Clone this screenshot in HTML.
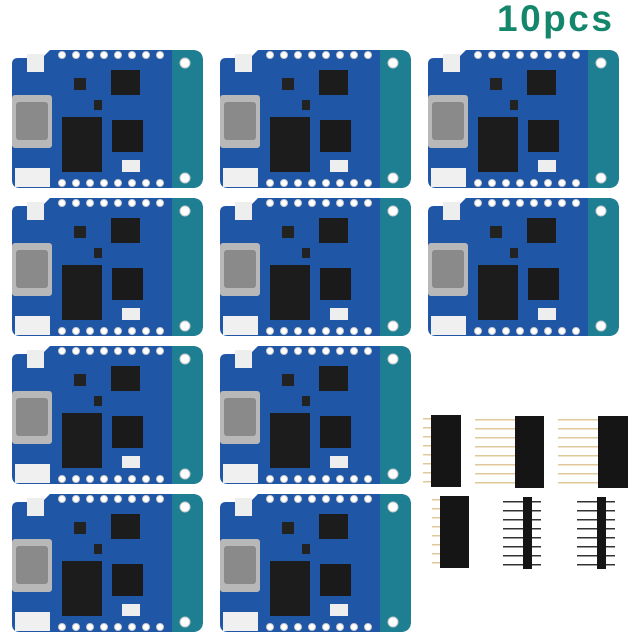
<!DOCTYPE html>
<html><head><style>
html,body{margin:0;padding:0;background:#fff;width:640px;height:640px;overflow:hidden}
</style></head><body>
<svg width="640" height="640" viewBox="0 0 640 640" xmlns="http://www.w3.org/2000/svg">
<defs>
<g id="b">
<path d="M38,0 H180 Q191,0 191,11 V127 Q191,138 180,138 H8 Q0,138 0,130 V14 Q0,8 6,8 H30 Z" fill="#1f56a6"/>
<path d="M160,0 H180 Q191,0 191,11 V127 Q191,138 180,138 H160 Z" fill="#1f7f92"/>
<g fill="#fff" stroke="#c9c9c9" stroke-width="1">
<circle cx="50" cy="5" r="3.5"/><circle cx="64" cy="5" r="3.5"/><circle cx="78" cy="5" r="3.5"/><circle cx="92" cy="5" r="3.5"/><circle cx="106" cy="5" r="3.5"/><circle cx="120" cy="5" r="3.5"/><circle cx="134" cy="5" r="3.5"/><circle cx="148" cy="5" r="3.5"/>
<circle cx="50" cy="133" r="3.5"/><circle cx="64" cy="133" r="3.5"/><circle cx="78" cy="133" r="3.5"/><circle cx="92" cy="133" r="3.5"/><circle cx="106" cy="133" r="3.5"/><circle cx="120" cy="133" r="3.5"/><circle cx="134" cy="133" r="3.5"/><circle cx="148" cy="133" r="3.5"/>
<circle cx="173" cy="13" r="5"/><circle cx="173" cy="128" r="5"/>
</g>
<rect x="15" y="4" width="17" height="18" fill="#eee"/>
<rect x="0" y="45" width="40" height="53" rx="3" fill="#b8b8b8"/>
<rect x="4" y="52" width="32" height="38" rx="3" fill="#8a8a8a"/>
<rect x="3" y="118" width="35" height="19" fill="#f0f0f0"/>
<rect x="50" y="67" width="40" height="55" fill="#1c1c1c"/>
<rect x="100" y="70" width="31" height="32" fill="#1a1a1a"/>
<rect x="99" y="20" width="29" height="25" fill="#1c1c1c"/>
<rect x="110" y="110" width="18" height="12" fill="#eee"/>
<rect x="62" y="28" width="12" height="12" fill="#222"/>
<rect x="82" y="50" width="8" height="10" fill="#222"/>
</g>
<g id="f" fill="#e0c89a">
<rect x="-8" y="3" width="8" height="1.5"/><rect x="-8" y="12" width="8" height="1.5"/><rect x="-8" y="21" width="8" height="1.5"/><rect x="-8" y="30" width="8" height="1.5"/><rect x="-8" y="39" width="8" height="1.5"/><rect x="-8" y="48" width="8" height="1.5"/><rect x="-8" y="57" width="8" height="1.5"/><rect x="-8" y="66" width="8" height="1.5"/>
</g>
<g id="m">
<g fill="#333"><rect x="-10" y="4" width="38" height="1.5"/><rect x="-10" y="13" width="38" height="1.5"/><rect x="-10" y="22" width="38" height="1.5"/><rect x="-10" y="31" width="38" height="1.5"/><rect x="-10" y="40" width="38" height="1.5"/><rect x="-10" y="49" width="38" height="1.5"/><rect x="-10" y="58" width="38" height="1.5"/><rect x="-10" y="67" width="38" height="1.5"/></g>
<rect x="10" y="0" width="9" height="72" fill="#151515"/>
</g>
</defs>
<use href="#b" x="12" y="50"/><use href="#b" x="220" y="50"/><use href="#b" x="428" y="50"/>
<use href="#b" x="12" y="198"/><use href="#b" x="220" y="198"/><use href="#b" x="428" y="198"/>
<use href="#b" x="12" y="346"/><use href="#b" x="220" y="346"/>
<use href="#b" x="12" y="494"/><use href="#b" x="220" y="494"/>
<use href="#f" x="431" y="415"/><rect x="431" y="415" width="30" height="72" fill="#151515"/>
<g transform="translate(515,416) scale(5,1)"><use href="#f"/></g><rect x="515" y="416" width="29" height="72" fill="#151515"/>
<g transform="translate(598,416) scale(5,1)"><use href="#f"/></g><rect x="598" y="416" width="30" height="72" fill="#151515"/>
<use href="#f" x="440" y="496"/><rect x="440" y="496" width="29" height="72" fill="#151515"/>
<use href="#m" x="513" y="497"/><use href="#m" x="587" y="497"/>
<text x="497" y="31" font-family="Liberation Sans, sans-serif" font-weight="bold" font-size="37" letter-spacing="2.5" fill="#13866b">10pcs</text>
</svg>
</body></html>
